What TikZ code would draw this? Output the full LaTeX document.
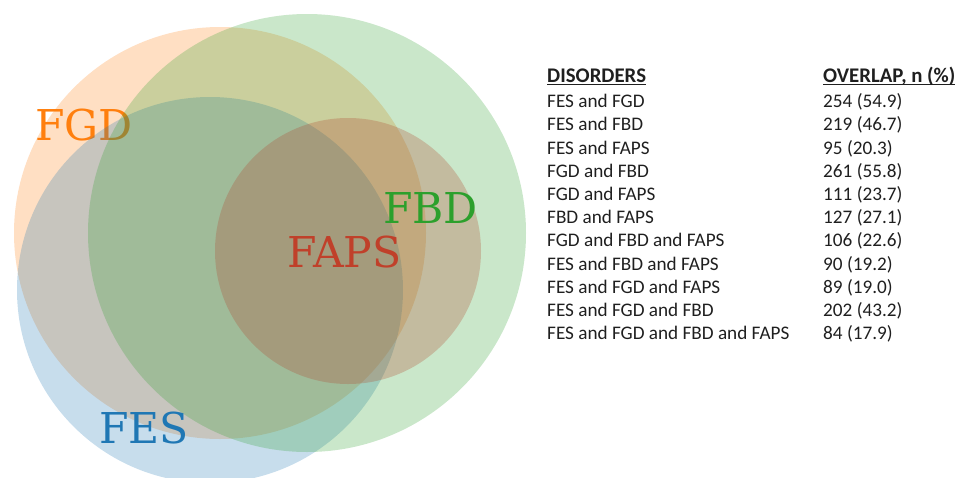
\documentclass[tikz,border=0pt]{standalone}
\usepackage{fontspec}
\setmainfont{Carlito}
\newfontfamily\vennfont{DejaVu Serif}
\definecolor{cfgd}{HTML}{FF7F0E}
\definecolor{cfes}{HTML}{1F77B4}
\definecolor{cfbd}{HTML}{2CA02C}
\definecolor{cfaps}{HTML}{B04A30}
\definecolor{tfaps}{HTML}{C0402A}
\newcommand\myul[1]{\setbox0\hbox{#1}\rlap{\rule[-2.6pt]{\wd0}{1.3pt}}\box0}
\begin{document}
\begin{tikzpicture}[x=1pt,y=-1pt,
  setcirc/.style={circle,inner sep=0pt,fill opacity=0.25,draw=none},
  setlab/.style={anchor=base west,inner sep=0pt,font=\vennfont\fontsize{42.5}{44}\selectfont},
  rowtxt/.style={anchor=base west,inner sep=0pt,font=\fontsize{19.2}{21}\selectfont,text=black!88},
  headtxt/.style={rowtxt,font=\bfseries\fontsize{20.8}{22}\selectfont}]
\useasboundingbox (0,0) rectangle (972,477);
\node[setcirc,fill=cfgd,minimum size=412pt] (cfgd) at (220,233) {};
\node[setlab,text=cfgd] (lfgd) at (35,140) {FGD};
\node[setcirc,fill=cfes,minimum size=386pt] (cfes) at (210,290) {};
\node[setcirc,fill=cfbd,minimum size=438pt] (cfbd) at (307,233) {};
\node[setcirc,fill=cfaps,fill opacity=0.28,minimum size=266pt] (cfaps) at (348,251) {};
\node[setlab,text=cfbd] (lfbd) at (383,223) {FBD};
\node[setlab,text=tfaps] (lfaps) at (287,267) {FAPS};
\node[setlab,text=cfes] (lfes) at (99,443) {FES};
% table
\node[headtxt] (h1) at (547,82.7) {\myul{DISORDERS}};
\node[headtxt] (h2) at (823,82.7) {\myul{OVERLAP, n (\%)}};
\foreach \a/\b [count=\i] in {FES and FGD/254 (54.9),FES and FBD/219 (46.7),FES and FAPS/95 (20.3),FGD and FBD/261 (55.8),FGD and FAPS/111 (23.7),FBD and FAPS/127 (27.1),FGD and FBD and FAPS/106 (22.6),FES and FBD and FAPS/90 (19.2),FES and FGD and FAPS/89 (19.0),FES and FGD and FBD/202 (43.2),FES and FGD and FBD and FAPS/84 (17.9)}{
  \node[rowtxt] (d\i) at (547,{107.7+(\i-1)*23.2}) {\a};
  \node[rowtxt] (o\i) at (823,{107.7+(\i-1)*23.2}) {\b};
}
\end{tikzpicture}
\end{document}
